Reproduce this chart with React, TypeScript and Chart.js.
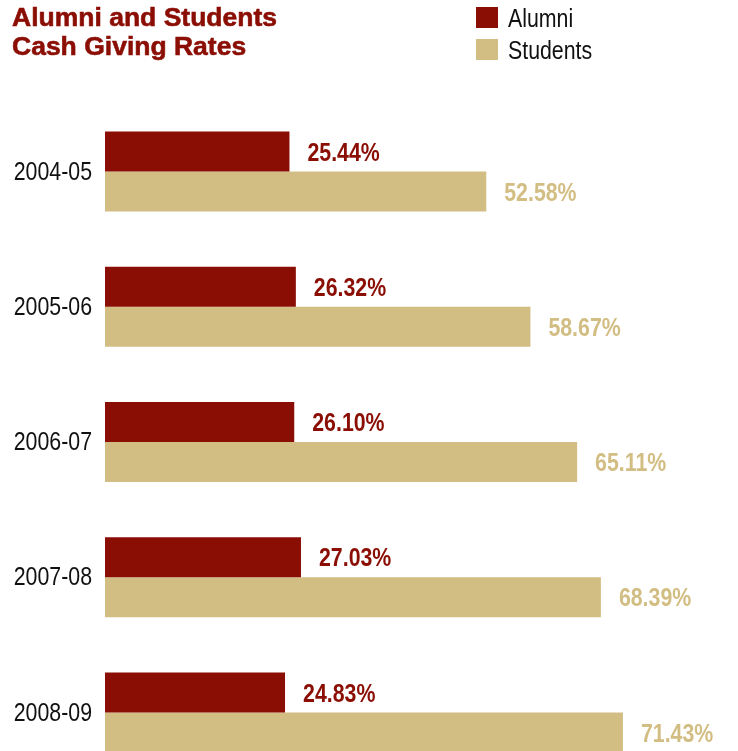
import React, { useEffect, useRef } from "react";
import { Chart, registerables } from "chart.js";

Chart.register(...registerables);

const categories = ["2004-05", "2005-06", "2006-07", "2007-08", "2008-09"];
const alumniRates = [25.44, 26.32, 26.1, 27.03, 24.83];
const studentRates = [52.58, 58.67, 65.11, 68.39, 71.43];
const seriesNames = ["Alumni", "Students"];
const titleLines = ["Alumni and Students", "Cash Giving Rates"];

const RED = "#8B0E04";
const TAN = "#D2BD83";
const FONT = '"Liberation Sans", Arial, sans-serif';
const NARROW_X = 0.82;

const condensedText = {
  id: "condensedText",
  afterDraw(chart: any) {
    const ctx = chart.ctx;
    // category labels
    const s = chart.scales.y;
    ctx.save();
    ctx.font = `26px ${FONT}`;
    ctx.fillStyle = "#111111";
    ctx.textAlign = "right";
    ctx.textBaseline = "middle";
    s.ticks.forEach((t: any, i: number) => {
      const y = s.getPixelForTick(i);
      ctx.save();
      ctx.translate(s.right - 13, y + 1);
      ctx.scale(NARROW_X, 1);
      ctx.fillText(String(s.getLabelForValue(t.value)), 0, 0);
      ctx.restore();
    });
    ctx.restore();

    // value labels
    ctx.save();
    ctx.font = `bold 26px ${FONT}`;
    ctx.textAlign = "left";
    ctx.textBaseline = "middle";
    chart.data.datasets.forEach((ds: any, di: number) => {
      const meta = chart.getDatasetMeta(di);
      ctx.fillStyle = ds.backgroundColor;
      meta.data.forEach((bar: any, i: number) => {
        const v = ds.data[i] as number;
        ctx.save();
        ctx.translate(bar.x + 18, bar.y + 2);
        ctx.scale(NARROW_X, 1);
        ctx.fillText(v.toFixed(2) + "%", 0, 0);
        ctx.restore();
      });
    });
    ctx.restore();
  },
};

export default function App() {
  const ref = useRef<HTMLCanvasElement | null>(null);

  useEffect(() => {
    if (!ref.current) return;
    const chart = new Chart(ref.current, {
      type: "bar",
      data: {
        labels: categories,
        datasets: [
          {
            label: seriesNames[0],
            data: alumniRates,
            backgroundColor: RED,
            borderWidth: 0,
            barPercentage: 1,
            categoryPercentage: 0.592,
          },
          {
            label: seriesNames[1],
            data: studentRates,
            backgroundColor: TAN,
            borderWidth: 0,
            barPercentage: 1,
            categoryPercentage: 0.592,
          },
        ],
      },
      options: {
        indexAxis: "y",
        responsive: true,
        maintainAspectRatio: false,
        animation: false,
        devicePixelRatio: 1,
        layout: { padding: { top: 104, right: 0, bottom: 0, left: 0 } },
        plugins: {
          legend: { display: false },
          title: { display: false },
          tooltip: { enabled: false },
        },
        scales: {
          x: {
            display: false,
            min: 0,
            max: 87.3,
          },
          y: {
            grid: { display: false },
            border: { display: false },
            ticks: { display: false },
            afterFit: (sc: any) => {
              sc.width = 105;
            },
          },
        },
      },
      plugins: [condensedText],
    } as any);
    return () => chart.destroy();
  }, []);

  return (
    <div
      style={{
        position: "fixed",
        left: 0,
        top: 0,
        width: 738,
        height: 751,
        overflow: "hidden",
        background: "#ffffff",
      }}
    >
      <div style={{ position: "absolute", left: 0, top: 0, width: 738, height: 780 }}>
        <canvas ref={ref} />
      </div>
      <div
        style={{
          position: "absolute",
          left: 12,
          top: 3,
          color: RED,
          fontFamily: FONT,
          fontWeight: 700,
          fontSize: 26.5,
          lineHeight: "29px",
          whiteSpace: "nowrap",
          WebkitTextStroke: `0.6px ${RED}`,
        }}
      >
        {titleLines.map((t) => (
          <div key={t}>{t}</div>
        ))}
      </div>
      <div style={{ position: "absolute", left: 476, top: 1.5 }}>
        {seriesNames.map((name, i) => (
          <div
            key={name}
            style={{ display: "flex", alignItems: "center", height: 32 }}
          >
            <div
              style={{
                width: 22,
                height: 21,
                background: i === 0 ? RED : TAN,
                marginRight: 10,
                flex: "none",
              }}
            />
            <span
              style={{
                display: "inline-block",
                fontFamily: FONT,
                fontSize: 26,
                color: "#111111",
                lineHeight: "30px",
                transform: `scaleX(${NARROW_X})`,
                transformOrigin: "left center",
                whiteSpace: "nowrap",
              }}
            >
              {name}
            </span>
          </div>
        ))}
      </div>
    </div>
  );
}
